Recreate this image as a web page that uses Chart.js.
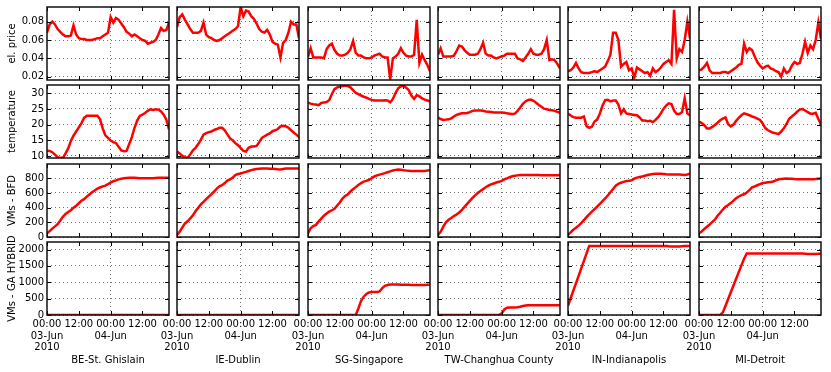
<!DOCTYPE html>
<html>
<head>
<meta charset="utf-8">
<script src="https://cdn.jsdelivr.net/npm/chart.js@4.4.0/dist/chart.umd.min.js"></script>
<style>
  body { margin: 0; background: #fff; }
  #wrap { position: relative; width: 831px; height: 372px; overflow: hidden; }
  #wrap canvas { position: absolute; }
</style>
</head>
<body>
<div id="wrap"></div>
<script>
// hours since 03-Jun-2010 00:00
const hours = [0,1,2,3,4,5,6,7,8,9,10,11,12,13,14,15,16,17,18,19,20,21,22,23,24,25,26,27,28,29,30,31,32,33,34,35,36,37,38,39,40,41,42,43,44,45,46];
const sites = ['BE-St. Ghislain', 'IE-Dublin', 'SG-Singapore', 'TW-Changhua County', 'IN-Indianapolis', 'MI-Detroit'];

const hourTicks = [0, 12, 24, 36];
const hourTickLabels = [['00:00', '03-Jun', '2010'], '12:00', ['00:00', '04-Jun'], '12:00'];

const priceTicks = [0.02, 0.04, 0.06, 0.08];
const priceTickLabels = ['0.02', '0.04', '0.06', '0.08'];
const tempTicks = [10, 15, 20, 25, 30];
const tempTickLabels = ['10', '15', '20', '25', '30'];
const bfdTicks = [0, 200, 400, 600, 800];
const bfdTickLabels = ['0', '200', '400', '600', '800'];
const gaTicks = [0, 500, 1000, 1500, 2000];
const gaTickLabels = ['0', '500', '1000', '1500', '2000'];

// electricity price
const priceBE = [0.068,0.077,0.080,0.077,0.072,0.069,0.066,0.064,0.064,0.065,0.076,0.066,0.062,0.061,0.061,0.060,0.060,0.060,0.061,0.062,0.062,0.064,0.066,0.068,0.085,0.079,0.084,0.082,0.078,0.074,0.069,0.067,0.064,0.066,0.064,0.062,0.060,0.059,0.056,0.057,0.058,0.060,0.066,0.073,0.070,0.071,0.079];
const priceIE = [0.074,0.085,0.088,0.082,0.077,0.072,0.068,0.068,0.068,0.070,0.079,0.066,0.063,0.062,0.060,0.059,0.060,0.062,0.064,0.066,0.068,0.070,0.072,0.075,0.096,0.086,0.092,0.091,0.086,0.083,0.078,0.072,0.069,0.068,0.071,0.066,0.058,0.056,0.055,0.041,0.057,0.060,0.068,0.080,0.077,0.077,0.062];
const priceSG = [0.042,0.051,0.041,0.041,0.041,0.041,0.040,0.050,0.054,0.056,0.049,0.045,0.043,0.043,0.044,0.046,0.050,0.059,0.046,0.043,0.043,0.041,0.040,0.040,0.041,0.043,0.044,0.045,0.042,0.041,0.041,0.017,0.040,0.042,0.045,0.051,0.046,0.043,0.042,0.042,0.044,0.082,0.035,0.044,0.038,0.033,0.026];
const priceTW = [0.044,0.051,0.042,0.042,0.042,0.042,0.043,0.048,0.054,0.053,0.049,0.046,0.044,0.044,0.044,0.045,0.050,0.057,0.045,0.043,0.043,0.041,0.040,0.041,0.042,0.043,0.045,0.045,0.045,0.045,0.040,0.039,0.037,0.041,0.045,0.050,0.045,0.044,0.044,0.045,0.050,0.060,0.038,0.039,0.038,0.034,0.029];
const priceIN = [0.026,0.027,0.030,0.035,0.029,0.025,0.024,0.024,0.024,0.025,0.026,0.025,0.027,0.029,0.031,0.037,0.044,0.068,0.068,0.060,0.031,0.034,0.036,0.027,0.029,0.019,0.030,0.028,0.026,0.024,0.025,0.021,0.029,0.025,0.027,0.030,0.034,0.036,0.038,0.034,0.093,0.040,0.050,0.047,0.060,0.080,0.062];
const priceMI = [0.027,0.028,0.031,0.035,0.027,0.024,0.024,0.024,0.024,0.025,0.025,0.024,0.026,0.028,0.030,0.033,0.034,0.056,0.047,0.051,0.049,0.042,0.036,0.032,0.029,0.031,0.032,0.029,0.028,0.026,0.025,0.020,0.029,0.024,0.026,0.032,0.036,0.034,0.035,0.045,0.058,0.046,0.054,0.050,0.060,0.079,0.061];

// temperature
const tempBE = [11.7,11.6,11.2,10.4,9.6,9.4,9.4,10.8,12.4,14.8,16.5,17.8,19.1,20.5,22.2,22.8,22.8,22.8,22.8,22.8,21.7,18.8,16.6,15.8,14.9,14.4,14.1,12.9,11.8,11.5,11.6,13.8,16.0,19.0,21.3,22.8,23.2,23.7,24.4,24.9,24.7,24.9,24.8,24.2,23.2,21.6,18.5];
const tempIE = [11.4,10.8,10.0,9.6,9.4,10.5,11.8,12.6,13.8,15.2,16.8,17.3,17.6,17.8,18.3,18.6,19.0,19.0,18.2,16.9,15.6,15.0,14.1,13.4,12.6,11.6,11.4,12.6,13.0,13.0,13.2,14.4,15.8,16.3,16.8,17.2,17.9,18.2,18.6,19.4,19.6,19.5,19.0,18.2,17.5,16.8,16.0];
const tempSG = [27.0,26.7,26.5,26.4,26.2,26.9,27.1,27.2,27.8,29.8,31.3,31.9,32.1,32.3,32.5,32.3,31.9,31.0,30.1,29.7,29.3,28.9,28.6,28.2,27.9,27.7,27.7,27.7,27.7,27.8,27.7,27.1,28.2,30.1,31.6,32.2,32.5,31.8,31.0,29.3,28.2,29.4,29.0,28.4,28.0,27.7,27.4];
const tempTW = [22.3,21.8,21.5,21.6,21.7,22.0,22.6,23.1,23.4,23.6,23.6,23.7,24.0,24.4,24.5,24.5,24.5,24.4,24.2,24.1,24.0,23.9,23.9,23.9,23.9,23.8,23.6,23.5,23.4,23.5,24.4,25.5,26.6,27.4,27.9,28.0,27.6,27.0,26.3,25.7,25.1,24.9,24.7,24.6,24.4,24.1,23.8];
const tempIN = [23.6,22.9,22.4,22.2,22.2,22.2,22.6,19.5,19.0,19.3,21.0,21.6,23.5,26.0,27.8,27.9,27.4,27.7,27.7,26.4,23.6,24.9,23.6,23.4,23.2,23.1,23.0,22.3,21.3,21.3,21.1,21.2,20.8,21.5,22.4,23.6,25.0,26.1,26.8,26.6,24.5,23.4,23.4,24.0,28.4,23.6,22.9];
const tempMI = [21.0,20.5,19.8,18.8,18.8,19.3,19.9,20.6,21.4,21.9,22.3,20.1,19.4,20.0,21.2,22.2,23.0,23.6,23.3,23.0,22.6,22.3,21.9,21.5,20.4,18.9,18.2,17.8,17.4,17.2,17.0,17.8,18.8,20.2,21.9,22.6,23.3,24.1,24.8,25.0,24.5,24.0,23.5,23.5,23.8,21.8,20.1];

// VMs placed by BFD
const bfdBE = [50,80,115,145,175,225,275,315,340,365,400,425,460,495,515,550,580,610,635,660,675,690,700,720,740,760,772,785,795,800,805,808,808,806,804,802,800,800,800,800,800,805,808,808,808,808,808];
const bfdIE = [30,70,130,185,215,255,295,350,400,445,480,515,550,585,620,660,690,705,735,770,785,810,845,858,865,878,888,900,912,920,926,930,933,933,932,930,929,926,922,920,926,932,933,933,933,933,933];
const bfdSG = [50,120,150,165,210,250,290,320,345,365,385,430,470,525,560,580,620,650,680,710,735,755,765,780,800,825,840,850,860,870,882,895,907,915,920,918,910,905,902,900,898,898,898,898,900,905,911];
const bfdTW = [30,70,140,200,235,258,285,307,335,368,410,452,492,532,567,600,628,652,678,700,718,730,742,752,764,784,800,815,828,835,840,844,844,844,844,844,844,844,844,843,842,841,840,841,842,843,844];
const bfdIN = [30,62,98,125,155,190,230,270,310,345,380,415,450,490,525,565,610,655,700,725,740,752,764,768,773,795,810,818,825,835,845,853,858,862,862,862,860,856,853,853,853,853,853,850,845,852,862];
const bfdMI = [50,75,110,140,170,205,235,290,330,375,412,435,462,495,528,552,570,582,605,640,676,690,705,720,735,740,745,750,757,772,786,790,794,796,795,793,790,788,787,787,787,787,787,788,790,793,796];

// VMs placed by GA hybrid
const gaBE = [0,0,0,0,0,0,0,0,0,0,0,0,0,0,0,0,0,0,0,0,0,0,0,0,0,0,0,0,0,0,0,0,0,0,0,0,0,0,0,0,0,0,0,0,0,0,0];
const gaIE = [0,0,0,0,0,0,0,0,0,0,0,0,0,0,0,0,0,0,0,0,0,0,0,0,0,0,0,0,0,0,0,0,0,0,0,0,0,0,0,0,0,0,0,0,0,0,0];
const gaSG = [0,0,0,0,0,0,0,0,0,0,0,0,0,0,0,0,0,0,0,200,430,560,640,690,705,705,705,720,820,890,915,930,930,930,928,926,925,924,922,920,920,920,920,920,920,922,925];
const gaTW = [0,0,0,0,0,0,0,0,0,0,0,0,0,0,0,0,0,0,0,0,0,0,0,0,50,170,225,230,230,232,235,250,275,290,300,300,300,300,300,300,300,300,300,300,300,300,300];
const gaIN = [280,511,740,968,1196,1425,1653,1881,2110,2110,2110,2110,2110,2110,2110,2110,2110,2110,2110,2110,2110,2110,2110,2110,2110,2110,2110,2110,2110,2110,2110,2110,2110,2110,2110,2110,2110,2110,2100,2095,2095,2095,2095,2100,2105,2110,2110];
const gaMI = [0,0,0,0,0,0,0,0,0,80,285,490,695,900,1105,1310,1515,1720,1880,1880,1880,1880,1880,1880,1880,1880,1880,1880,1880,1880,1880,1880,1880,1880,1880,1880,1880,1880,1880,1875,1870,1865,1862,1862,1865,1868,1870];

const rows = [
  { title: 'el. price', series: [priceBE, priceIE, priceSG, priceTW, priceIN, priceMI], ticks: priceTicks, labels: priceTickLabels, min: 0.0164, max: 0.0960 },
  { title: 'temperature', series: [tempBE, tempIE, tempSG, tempTW, tempIN, tempMI], ticks: tempTicks, labels: tempTickLabels, min: 9.35, max: 32.65 },
  { title: 'VMs - BFD', series: [bfdBE, bfdIE, bfdSG, bfdTW, bfdIN, bfdMI], ticks: bfdTicks, labels: bfdTickLabels, min: 0, max: 995 },
  { title: 'VMs - GA HYBRID', series: [gaBE, gaIE, gaSG, gaTW, gaIN, gaMI], ticks: gaTicks, labels: gaTickLabels, min: 0, max: 2230 },
];

// panel layout (px)
const PAGE_H = 372;
const LEFTS = [47, 177, 308, 438, 568, 699];
const TOPS = [7, 85, 164, 242];
const PW = 122, PH = 73;
const GRID = 'rgba(0,0,0,0.55)';
const FONT = { family: '"DejaVu Sans", "Liberation Sans", sans-serif', size: 10, lineHeight: 1.15 };

// matplotlib-like frame with inward ticks
const framePlugin = {
  id: 'frame',
  afterDatasetsDraw(chart) {
    const { ctx, chartArea: a, scales: { x, y } } = chart;
    ctx.save();
    ctx.strokeStyle = '#000';
    ctx.lineWidth = 1;
    ctx.beginPath();
    x.ticks.forEach(t => {
      const px = Math.round(x.getPixelForValue(t.value)) + 0.5;
      ctx.moveTo(px, a.bottom); ctx.lineTo(px, a.bottom - 4);
      ctx.moveTo(px, a.top); ctx.lineTo(px, a.top + 4);
    });
    y.ticks.forEach(t => {
      const py = Math.round(y.getPixelForValue(t.value)) + 0.5;
      ctx.moveTo(a.left, py); ctx.lineTo(a.left + 4, py);
      ctx.moveTo(a.right, py); ctx.lineTo(a.right - 4, py);
    });
    ctx.stroke();
    ctx.lineWidth = 1.5;
    ctx.strokeStyle = '#111';
    ctx.strokeRect(a.left, a.top, a.width, a.height);
    ctx.restore();
  }
};

const wrap = document.getElementById('wrap');

rows.forEach((row, r) => {
  const last = r === rows.length - 1;
  row.series.forEach((vals, c) => {
    const first = c === 0;
    const padL = first ? 0 : 22, padR = 8, padT = 8;
    const axisW = first ? LEFTS[0] : 0;
    const axisH = last ? PAGE_H - (TOPS[r] + PH) : 0;
    const padB = last ? 0 : 8;
    const left = LEFTS[c] - padL - axisW;
    const top = TOPS[r] - padT;
    const w = padL + axisW + PW + padR;
    const h = padT + PH + axisH + padB;

    const cv = document.createElement('canvas');
    cv.width = w; cv.height = h;
    cv.style.left = left + 'px'; cv.style.top = top + 'px';
    cv.style.width = w + 'px'; cv.style.height = h + 'px';
    wrap.appendChild(cv);

    new Chart(cv, {
      type: 'line',
      data: {
        datasets: [{
          data: hours.map((hr, i) => ({ x: hr, y: vals[i] })),
          borderColor: '#ff0000',
          borderWidth: 2.5,
          pointRadius: 0,
          tension: 0,
          fill: false,
        }]
      },
      options: {
        responsive: false,
        animation: false,
        devicePixelRatio: 1,
        layout: { padding: { left: padL, right: padR, top: padT, bottom: padB } },
        plugins: { legend: { display: false }, tooltip: { enabled: false } },
        scales: {
          x: {
            type: 'linear',
            min: 0,
            max: 46,
            afterBuildTicks: s => { s.ticks = hourTicks.map(v => ({ value: v })); },
            afterFit: s => {
              s.height = axisH;
              s.paddingLeft = 0; s.paddingRight = 0; s.paddingTop = 0; s.paddingBottom = 0;
            },
            border: { display: false, dash: [1, 3] },
            grid: {
              drawTicks: false,
              lineWidth: 1,
              color: ctx => (ctx.tick && ctx.tick.value === 24 ? GRID : 'rgba(0,0,0,0)'),
            },
            ticks: {
              display: last,
              autoSkip: false,
              maxRotation: 0,
              minRotation: 0,
              padding: 4,
              color: '#000',
              font: FONT,
              callback: (v, i) => hourTickLabels[i],
            },
            title: {
              display: last,
              text: sites[c],
              color: '#000',
              font: { family: FONT.family, size: 10 },
              padding: { top: 0, bottom: 6 },
            },
          },
          y: {
            type: 'linear',
            min: row.min,
            max: row.max,
            afterBuildTicks: s => { s.ticks = row.ticks.map(v => ({ value: v })); },
            afterFit: s => {
              s.width = axisW;
              s.paddingLeft = 0; s.paddingRight = 0; s.paddingTop = 0; s.paddingBottom = 0;
            },
            border: { display: false, dash: [1, 3] },
            grid: { drawTicks: false, lineWidth: 1, color: GRID },
            ticks: {
              display: first,
              padding: 3,
              color: '#000',
              font: FONT,
              callback: (v, i) => row.labels[i],
            },
            title: {
              display: first,
              text: row.title,
              color: '#000',
              font: { family: FONT.family, size: 10 },
              padding: { top: 6.5, bottom: 0 },
            },
          },
        },
      },
      plugins: [framePlugin],
    });
  });
});
</script>
</body>
</html>
